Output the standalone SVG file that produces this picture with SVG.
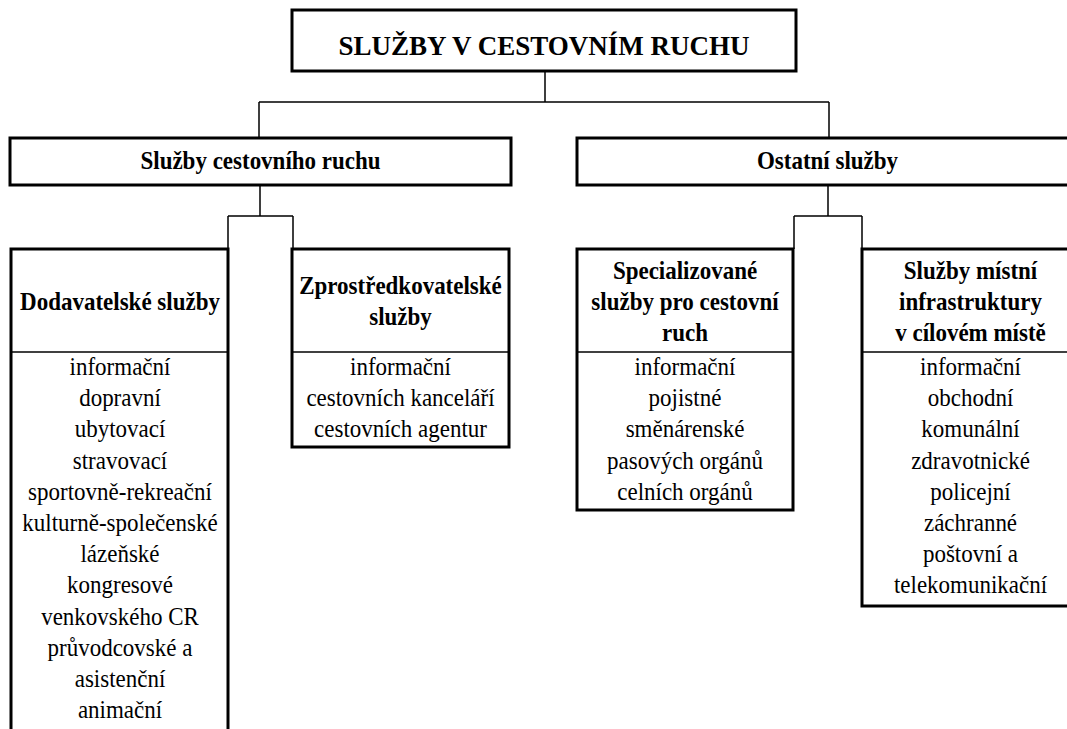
<svg xmlns="http://www.w3.org/2000/svg" width="1067" height="729" viewBox="0 0 1067 729">
<style>
.box{fill:#fff;stroke:#000;stroke-width:3}
.div{stroke:#000;stroke-width:1.5;fill:none}
.con{stroke:#000;stroke-width:1.5;fill:none}
text{fill:#000;text-anchor:middle;font-family:"Liberation Serif","Times New Roman",serif}
.t{font-size:27px;font-weight:bold}
.h{font-size:23px;font-weight:bold}
.b{font-size:23px}
</style>
<rect width="1067" height="729" fill="#fff"/>
<g id="connectors">
<path class="con" d="M545,71V102M259,102H829M259,102V138M829,102V138"/>
<path class="con" d="M260,185V216M228,216H293M228,216V249M293,216V249"/>
<path class="con" d="M828,185V216M794,216H862M794,216V249M862,216V249"/>
</g>
<g id="root">
<rect class="box" x="292" y="10" width="504" height="61"/>
<text class="t" x="544" y="55">SLUŽBY V CESTOVNÍM RUCHU</text>
</g>
<g id="sluzby-cr">
<rect class="box" x="10" y="138" width="501" height="47"/>
<text class="h" transform="translate(260.5,169) scale(1,1.1)">Služby cestovního ruchu</text>
</g>
<g id="ostatni">
<rect class="box" x="577" y="138" width="503" height="47"/>
<text class="h" transform="translate(827.5,169) scale(1,1.1)">Ostatní služby</text>
</g>
<g id="dodavatelske">
<rect class="box" x="11" y="249" width="217" height="500"/>
<line class="div" x1="11" y1="352" x2="228" y2="352"/>
<text class="h" transform="translate(120,310) scale(1,1.1)">Dodavatelské služby</text>
<text class="b" transform="translate(120,375) scale(1,1.1)">informační</text>
<text class="b" transform="translate(120,406.2) scale(1,1.1)">dopravní</text>
<text class="b" transform="translate(120,437.4) scale(1,1.1)">ubytovací</text>
<text class="b" transform="translate(120,468.6) scale(1,1.1)">stravovací</text>
<text class="b" transform="translate(120,499.8) scale(1,1.1)">sportovně-rekreační</text>
<text class="b" transform="translate(120,531) scale(1,1.1)">kulturně-společenské</text>
<text class="b" transform="translate(120,562.2) scale(1,1.1)">lázeňské</text>
<text class="b" transform="translate(120,593.4) scale(1,1.1)">kongresové</text>
<text class="b" transform="translate(120,624.6) scale(1,1.1)">venkovského CR</text>
<text class="b" transform="translate(120,655.8) scale(1,1.1)">průvodcovské a</text>
<text class="b" transform="translate(120,687) scale(1,1.1)">asistenční</text>
<text class="b" transform="translate(120,718.2) scale(1,1.1)">animační</text>
</g>
<g id="zprostredkovatelske">
<rect class="box" x="292" y="249" width="217" height="198"/>
<line class="div" x1="292" y1="352" x2="509" y2="352"/>
<text class="h" transform="translate(400.5,294) scale(1,1.1)">Zprostředkovatelské</text>
<text class="h" transform="translate(400.5,325) scale(1,1.1)">služby</text>
<text class="b" transform="translate(400.5,375) scale(1,1.1)">informační</text>
<text class="b" transform="translate(400.5,406.2) scale(1,1.1)">cestovních kanceláří</text>
<text class="b" transform="translate(400.5,437.4) scale(1,1.1)">cestovních agentur</text>
</g>
<g id="specializovane">
<rect class="box" x="577" y="249" width="216" height="261"/>
<line class="div" x1="577" y1="352" x2="793" y2="352"/>
<text class="h" transform="translate(685,279) scale(1,1.1)">Specializované</text>
<text class="h" transform="translate(685,310) scale(1,1.1)">služby pro cestovní</text>
<text class="h" transform="translate(685,341) scale(1,1.1)">ruch</text>
<text class="b" transform="translate(685,375) scale(1,1.1)">informační</text>
<text class="b" transform="translate(685,406.2) scale(1,1.1)">pojistné</text>
<text class="b" transform="translate(685,437.4) scale(1,1.1)">směnárenské</text>
<text class="b" transform="translate(685,468.6) scale(1,1.1)">pasových orgánů</text>
<text class="b" transform="translate(685,499.8) scale(1,1.1)">celních orgánů</text>
</g>
<g id="mistni">
<rect class="box" x="862" y="249" width="217" height="357"/>
<line class="div" x1="862" y1="352" x2="1079" y2="352"/>
<text class="h" transform="translate(970.5,279) scale(1,1.1)">Služby místní</text>
<text class="h" transform="translate(970.5,310) scale(1,1.1)">infrastruktury</text>
<text class="h" transform="translate(970.5,341) scale(1,1.1)">v cílovém místě</text>
<text class="b" transform="translate(970.5,375) scale(1,1.1)">informační</text>
<text class="b" transform="translate(970.5,406.2) scale(1,1.1)">obchodní</text>
<text class="b" transform="translate(970.5,437.4) scale(1,1.1)">komunální</text>
<text class="b" transform="translate(970.5,468.6) scale(1,1.1)">zdravotnické</text>
<text class="b" transform="translate(970.5,499.8) scale(1,1.1)">policejní</text>
<text class="b" transform="translate(970.5,531) scale(1,1.1)">záchranné</text>
<text class="b" transform="translate(970.5,562.2) scale(1,1.1)">poštovní a</text>
<text class="b" transform="translate(970.5,593.4) scale(1,1.1)">telekomunikační</text>
</g>
</svg>
